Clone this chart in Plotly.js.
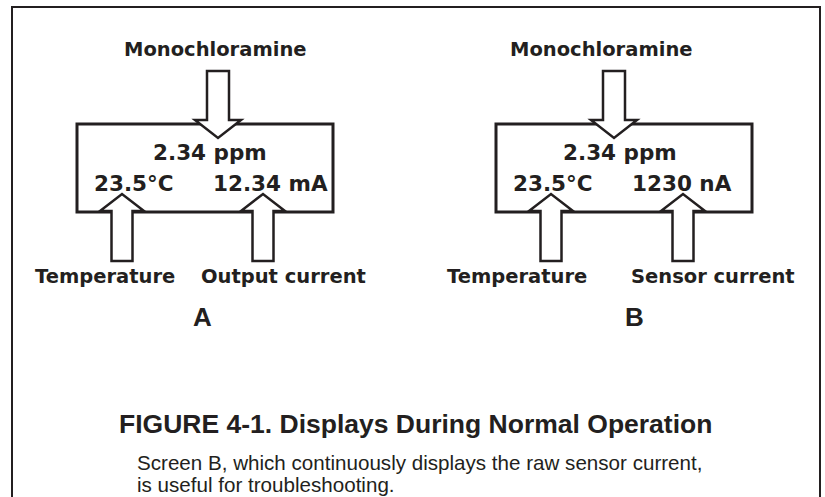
<!DOCTYPE html>
<html>
<head>
<meta charset="utf-8">
<script src="https://cdn.plot.ly/plotly-3.0.1.min.js"></script>
<style>html,body{margin:0;padding:0;background:#fff;}#chart{width:825px;height:497px;}</style>
</head>
<body>
<div id="chart"></div>
<script>
// ---- content (labels only) ----
const panels = ['A', 'B'];
const inputLabel = ['Monochloramine', 'Monochloramine'];
const mainReading = ['2.34 ppm', '2.34 ppm'];
const tempReading = ['23.5°C', '23.5°C'];
const currentReading = ['12.34 mA', '1230 nA'];
const tempLabel = ['Temperature', 'Temperature'];
const currentLabel = ['Output current', 'Sensor current'];
const captionTitle = 'FIGURE 4-1. Displays During Normal Operation';
const captionBody = ['Screen B, which continuously displays the raw sensor current,', 'is useful for troubleshooting.'];

// ---- layout geometry (pixel space) ----
const geom = {
  box: [{x0: 77, x1: 333}, {x0: 496, x1: 752}],
  boxY0: 124, boxY1: 212,
  topArrowX: [218, 614],
  tempArrowX: [122, 551],
  curArrowX: [263, 683],
  monoX: [215, 601], readX: [210, 620], tempX: [134, 553], curX: [270, 682],
  tempLblX: [105, 517], curLblX: [283, 713], panelX: [202, 634]
};
const ink = '#231f20';
const diagFont = 'DejaVu Sans, Liberation Sans, sans-serif';
const textFont = 'Liberation Sans, Arial, sans-serif';

function downArrow(cx) {
  const sh = 11, hh = 23, y0 = 71, yb = 120, yt = 138;
  return `M ${cx-sh},${y0} L ${cx+sh},${y0} L ${cx+sh},${yb} L ${cx+hh},${yb} L ${cx},${yt} L ${cx-hh},${yb} L ${cx-sh},${yb} Z`;
}
function upArrow(cx) {
  const sh = 10.5, hh = 22, y0 = 261, yb = 211, yt = 194;
  return `M ${cx-sh},${y0} L ${cx+sh},${y0} L ${cx+sh},${yb} L ${cx+hh},${yb} L ${cx},${yt} L ${cx-hh},${yb} L ${cx-sh},${yb} Z`;
}

const shapes = [];
// outer frame (open at the bottom)
shapes.push({type: 'path', xref: 'x', yref: 'y', path: 'M 12,497 L 12,7 L 820,7 L 820,497', line: {color: ink, width: 2}});
const annotations = [];
function ann(x, y, text, size, family, weight, anchor) {
  annotations.push({x: x, y: y, xref: 'x', yref: 'y', text: text, showarrow: false,
    xanchor: anchor || 'center', yanchor: 'middle',
    font: {family: family, size: size, color: ink, weight: weight}});
}
panels.forEach((p, i) => {
  const b = geom.box[i];
  shapes.push({type: 'rect', xref: 'x', yref: 'y', x0: b.x0, x1: b.x1, y0: geom.boxY0, y1: geom.boxY1,
    line: {color: ink, width: 3}, fillcolor: 'rgba(0,0,0,0)'});
  [downArrow(geom.topArrowX[i]), upArrow(geom.tempArrowX[i]), upArrow(geom.curArrowX[i])].forEach(pth => {
    shapes.push({type: 'path', xref: 'x', yref: 'y', path: pth, fillcolor: '#ffffff', line: {color: ink, width: 2.5}});
  });
  ann(geom.monoX[i], 49, inputLabel[i], 19.5, diagFont, 700);
  ann(geom.readX[i], 152, mainReading[i], 21.5, diagFont, 700);
  ann(geom.tempX[i], 183, tempReading[i], 21.5, diagFont, 700);
  ann(geom.curX[i], 183, currentReading[i], 21.5, diagFont, 700);
  ann(geom.tempLblX[i], 276, tempLabel[i], 19.5, diagFont, 700);
  ann(geom.curLblX[i], 276, currentLabel[i], 19.5, diagFont, 700);
  ann(geom.panelX[i], 317, p, 26, textFont, 700);
});
ann(415, 424, captionTitle, 26.5, textFont, 700);
ann(135, 462, captionBody[0], 20.6, textFont, 400, 'left');
ann(135, 484, captionBody[1], 20.6, textFont, 400, 'left');

const layout = {
  width: 825, height: 497,
  margin: {l: 0, r: 0, t: 0, b: 0},
  paper_bgcolor: '#ffffff', plot_bgcolor: '#ffffff',
  xaxis: {range: [0, 825], visible: false, fixedrange: true},
  yaxis: {range: [497, 0], visible: false, fixedrange: true},
  showlegend: false,
  shapes: shapes,
  annotations: annotations
};
Plotly.newPlot('chart', [{x: [], y: [], type: 'scatter', mode: 'markers', hoverinfo: 'skip'}], layout, {displayModeBar: false, staticPlot: true});
</script>
</body>
</html>
